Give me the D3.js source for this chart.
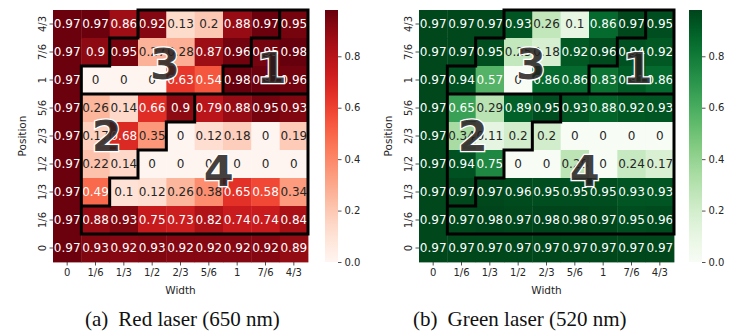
<!DOCTYPE html>
<html>
<head>
<meta charset="utf-8">
<script src="https://cdn.jsdelivr.net/npm/d3@7"></script>
<style>
  body { margin: 0; background: #fff; }
  svg { display: block; }
</style>
</head>
<body>
<svg id="chart" width="744" height="335"></svg>
<script>
// Axis categories
const widths = ["0", "1/6", "1/3", "1/2", "2/3", "5/6", "1", "7/6", "4/3"];
const positions = ["4/3", "7/6", "1", "5/6", "2/3", "1/2", "1/3", "1/6", "0"];

// Success rate per (position, width); rows follow `positions` top to bottom
const redValues = [
  [0.97, 0.97, 0.86, 0.92, 0.13, 0.2, 0.88, 0.97, 0.95],
  [0.97, 0.9, 0.95, 0.27, 0.28, 0.87, 0.96, 0.95, 0.98],
  [0.97, 0, 0, 0, 0.63, 0.54, 0.98, 0.97, 0.96],
  [0.97, 0.26, 0.14, 0.66, 0.9, 0.79, 0.88, 0.95, 0.93],
  [0.97, 0.17, 0.68, 0.35, 0, 0.12, 0.18, 0, 0.19],
  [0.97, 0.22, 0.14, 0, 0, 0, 0, 0, 0],
  [0.97, 0.49, 0.1, 0.12, 0.26, 0.38, 0.65, 0.58, 0.34],
  [0.97, 0.88, 0.93, 0.75, 0.73, 0.82, 0.74, 0.74, 0.84],
  [0.97, 0.93, 0.92, 0.93, 0.92, 0.92, 0.92, 0.92, 0.89]
];
const greenValues = [
  [0.97, 0.97, 0.97, 0.93, 0.26, 0.1, 0.86, 0.97, 0.95],
  [0.97, 0.97, 0.95, 0.25, 0.18, 0.92, 0.96, 0.94, 0.92],
  [0.97, 0.94, 0.57, 0, 0.86, 0.86, 0.83, 0.91, 0.86],
  [0.97, 0.65, 0.29, 0.89, 0.95, 0.93, 0.88, 0.92, 0.93],
  [0.97, 0.34, 0.11, 0.2, 0.2, 0, 0, 0, 0],
  [0.97, 0.94, 0.75, 0, 0, 0.28, 0, 0.24, 0.17],
  [0.97, 0.97, 0.97, 0.96, 0.95, 0.95, 0.95, 0.93, 0.93],
  [0.97, 0.97, 0.98, 0.97, 0.98, 0.98, 0.97, 0.95, 0.96],
  [0.97, 0.97, 0.97, 0.97, 0.97, 0.97, 0.97, 0.97, 0.97]
];

// Region id of every cell (0 = no region); outlines are drawn where ids change
const regionGrid = [
  [0, 0, 0, 3, 3, 3, 3, 3, 1],
  [0, 0, 3, 3, 3, 3, 3, 1, 1],
  [0, 3, 3, 3, 3, 3, 1, 1, 1],
  [0, 2, 2, 2, 2, 4, 4, 4, 4],
  [0, 2, 2, 2, 4, 4, 4, 4, 4],
  [0, 2, 2, 4, 4, 4, 4, 4, 4],
  [0, 2, 4, 4, 4, 4, 4, 4, 4],
  [0, 4, 4, 4, 4, 4, 4, 4, 4],
  [0, 0, 0, 0, 0, 0, 0, 0, 0]
];

// Region numbers, placed in grid units (columns, rows)
const regionLabels = ["1", "2", "3", "4"];
const regionLabelCols = [7.72, 1.9, 3.95, 5.85];
const regionLabelRows = [2.05, 4.5, 1.9, 5.72];

const colorbarTicks = [0, 0.2, 0.4, 0.6, 0.8];
const captions = ["(a)", "(b)"];
const captionTitles = ["Red laser (650 nm)", "Green laser (520 nm)"];

const panels = [
  { values: redValues, interp: d3.interpolateReds, left: 53, cbLeft: 325, capX: 85 },
  { values: greenValues, interp: d3.interpolateGreens, left: 419, cbLeft: 689, capX: 413 }
];

const svg = d3.select("#chart");
const gridTop = 10, gridW = 255, gridH = 252, cbW = 13;
const font = "DejaVu Sans, sans-serif";
const fmt = d3.format(".2~g");

function luminance(c) {
  const rgb = d3.rgb(c);
  const lin = v => { v /= 255; return v <= 0.03928 ? v / 12.92 : Math.pow((v + 0.055) / 1.055, 2.4); };
  return 0.2126 * lin(rgb.r) + 0.7152 * lin(rgb.g) + 0.0722 * lin(rgb.b);
}

panels.forEach((p, pi) => {
  const g = svg.append("g");
  const x = d3.scaleBand().domain(widths).range([p.left, p.left + gridW]);
  const y = d3.scaleBand().domain(positions).range([gridTop, gridTop + gridH]);
  const gx = d3.scaleLinear().domain([0, widths.length]).range([p.left, p.left + gridW]);
  const gy = d3.scaleLinear().domain([0, positions.length]).range([gridTop, gridTop + gridH]);
  const vmax = d3.max(p.values.flat());
  const color = d3.scaleSequential(p.interp).domain([0, vmax]);

  const cells = [];
  p.values.forEach((row, ri) => row.forEach((v, ci) => cells.push({ r: positions[ri], c: widths[ci], v })));

  // cells
  g.selectAll("rect.cell").data(cells).join("rect")
    .attr("class", "cell")
    .attr("x", d => x(d.c)).attr("y", d => y(d.r))
    .attr("width", x.bandwidth() + 0.4).attr("height", y.bandwidth() + 0.4)
    .attr("fill", d => color(d.v));

  // annotations
  g.selectAll("text.annot").data(cells).join("text")
    .attr("class", "annot")
    .attr("x", d => x(d.c) + x.bandwidth() / 2)
    .attr("y", d => y(d.r) + y.bandwidth() / 2)
    .attr("dy", "0.36em")
    .attr("text-anchor", "middle")
    .attr("font-family", font).attr("font-size", 12)
    .attr("fill", d => luminance(color(d.v)) > 0.408 ? "#262626" : "#ffffff")
    .text(d => fmt(d.v));

  // region outlines
  const nR = regionGrid.length, nC = regionGrid[0].length;
  const id = (r, c) => (r < 0 || c < 0 || r >= nR || c >= nC) ? 0 : regionGrid[r][c];
  let path = "";
  for (let r = 0; r <= nR; r++) {
    for (let c = 0; c <= nC; c++) {
      // vertical edge on the left of cell (r, c)
      if (r < nR && id(r, c) !== id(r, c - 1)) path += `M${gx(c)},${gy(r)}L${gx(c)},${gy(r + 1)}`;
      // horizontal edge on top of cell (r, c)
      if (c < nC && id(r, c) !== id(r - 1, c)) path += `M${gx(c)},${gy(r)}L${gx(c + 1)},${gy(r)}`;
    }
  }
  g.append("path").attr("d", path)
    .attr("fill", "none").attr("stroke", "#000").attr("stroke-width", 3)
    .attr("stroke-linecap", "square");

  // region numbers
  g.selectAll("text.region").data(regionLabels).join("text")
    .attr("class", "region")
    .attr("x", (d, i) => gx(regionLabelCols[i]))
    .attr("y", (d, i) => gy(regionLabelRows[i]))
    .attr("dy", "0.36em")
    .attr("text-anchor", "middle")
    .attr("font-family", font).attr("font-weight", "bold").attr("font-size", 43)
    .attr("fill", "rgba(35,30,30,0.85)")
    .attr("stroke", "#ffffff").attr("stroke-width", 2.5)
    .attr("paint-order", "stroke")
    .text(d => d);

  // axes
  const xAxis = g.append("g").attr("transform", `translate(0,${gridTop + gridH})`)
    .call(d3.axisBottom(x).tickSize(3.5).tickPadding(3));
  const yAxis = g.append("g").attr("transform", `translate(${p.left},0)`)
    .call(d3.axisLeft(y).tickSize(3.5).tickPadding(3));
  [xAxis, yAxis].forEach(a => {
    a.select(".domain").remove();
    a.selectAll("line").attr("stroke", "#262626").attr("stroke-width", 0.8);
    a.selectAll("text").attr("font-family", font).attr("font-size", 10).attr("fill", "#262626");
  });
  yAxis.selectAll("text")
    .attr("transform", "rotate(-90)")
    .attr("x", 0).attr("y", -7).attr("dy", 0)
    .attr("text-anchor", "middle");

  g.append("text")
    .attr("x", p.left + gridW / 2).attr("y", 294)
    .attr("text-anchor", "middle")
    .attr("font-family", font).attr("font-size", 10.5).attr("fill", "#262626")
    .text("Width");
  g.append("text")
    .attr("transform", `translate(${p.left - 27},${gridTop + gridH / 2}) rotate(-90)`)
    .attr("text-anchor", "middle")
    .attr("font-family", font).attr("font-size", 10.5).attr("fill", "#262626")
    .text("Position");

  // colorbar
  const gradId = "cbgrad" + pi;
  const grad = svg.append("defs").append("linearGradient")
    .attr("id", gradId).attr("x1", 0).attr("y1", 1).attr("x2", 0).attr("y2", 0);
  d3.range(0, 1.0001, 0.05).forEach(t => {
    grad.append("stop").attr("offset", t).attr("stop-color", color(t * vmax));
  });
  g.append("rect")
    .attr("x", p.cbLeft).attr("y", gridTop).attr("width", cbW).attr("height", gridH)
    .attr("fill", `url(#${gradId})`);
  const cbScale = d3.scaleLinear().domain([0, vmax]).range([gridTop + gridH, gridTop]);
  const cbAxis = g.append("g").attr("transform", `translate(${p.cbLeft + cbW},0)`)
    .call(d3.axisRight(cbScale).tickValues(colorbarTicks).tickFormat(d3.format(".1f")).tickSize(3.5).tickPadding(3));
  cbAxis.select(".domain").remove();
  cbAxis.selectAll("line").attr("stroke", "#262626").attr("stroke-width", 0.8);
  cbAxis.selectAll("text").attr("font-family", font).attr("font-size", 10).attr("fill", "#262626");

  // caption
  const cap = g.append("text")
    .attr("x", p.capX).attr("y", 326)
    .attr("font-family", "Liberation Serif, Times New Roman, serif").attr("font-size", 21)
    .attr("fill", "#111");
  cap.append("tspan").text(captions[pi]);
  cap.append("tspan").attr("dx", 10).text(captionTitles[pi]);
});
</script>
</body>
</html>
